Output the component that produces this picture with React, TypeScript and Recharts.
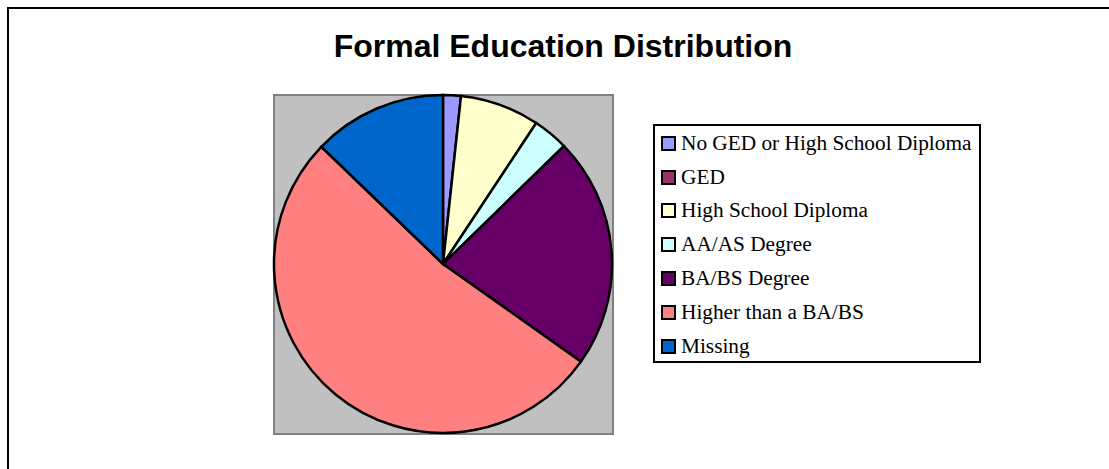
import React from 'react'
import { PieChart, Pie, Cell, Legend } from 'recharts'

// categories in clockwise order from 12 o'clock
const categories = [
  'No GED or High School Diploma',
  'GED',
  'High School Diploma',
  'AA/AS Degree',
  'BA/BS Degree',
  'Higher than a BA/BS',
  'Missing',
]
// share of respondents, %
const shares = [1.7, 0, 7.6, 3.4, 22.1, 52.4, 12.8]
const colors = ['#9999FF', '#993366', '#FFFFCC', '#CCFFFF', '#660066', '#FF8080', '#0066CC']

const title = 'Formal Education Distribution'

const data = categories.map((name, i) => ({ name, value: shares[i], color: colors[i] }))

function LegendBox() {
  return (
    <div
      style={{
        position: 'relative',
        boxSizing: 'border-box',
        width: 328,
        height: 239,
        border: '2px solid #000',
        background: '#fff',
        fontFamily: '"Liberation Serif", "Times New Roman", serif',
        fontSize: 21.3,
        color: '#000',
      }}
    >
      {data.map((d, i) => (
        <div
          key={d.name}
          style={{ position: 'absolute', left: 0, top: 4.8 + i * 33.8, height: 24, width: 320, lineHeight: '24px', whiteSpace: 'nowrap' }}
        >
          <div
            style={{
              position: 'absolute',
              left: 6,
              top: 5,
              width: 15,
              height: 15,
              boxSizing: 'border-box',
              border: '2px solid #000',
              background: d.color,
            }}
          />
          <span style={{ position: 'absolute', left: 26, top: 0 }}>{d.name}</span>
        </div>
      ))}
    </div>
  )
}

export default function App() {
  return (
    <div
      style={{
        position: 'absolute',
        left: 0,
        top: 0,
        width: 1109,
        height: 469,
        overflow: 'hidden',
        background: '#fff',
      }}
    >
      {/* chart frame, only left/top edges fall inside the picture */}
      <div
        style={{
          position: 'absolute',
          left: 7,
          top: 7,
          width: 1300,
          height: 800,
          borderLeft: '2px solid #000',
          borderTop: '2px solid #000',
        }}
      />
      <div
        style={{
          position: 'absolute',
          left: 263,
          top: 30,
          width: 600,
          textAlign: 'center',
          fontFamily: '"Liberation Sans", Arial, sans-serif',
          fontWeight: 'bold',
          fontSize: 32,
          lineHeight: '32px',
          color: '#000',
        }}
      >
        {title}
      </div>
      {/* plot area */}
      <div
        style={{
          position: 'absolute',
          left: 273,
          top: 94,
          width: 341,
          height: 341,
          boxSizing: 'border-box',
          border: '2px solid #808080',
          background: '#C0C0C0',
        }}
      />
      <div style={{ position: 'absolute', left: 0, top: 0 }}>
        <PieChart width={1109} height={469} margin={{ top: 0, right: 0, bottom: 0, left: 0 }}>
          <Pie
            data={data}
            dataKey="value"
            nameKey="name"
            cx={443}
            cy={264}
            outerRadius={169}
            startAngle={90}
            endAngle={-270}
            stroke="#000"
            strokeWidth={2.5}
            label={false}
            labelLine={false}
            isAnimationActive={false}
          >
            {data.map(d => (
              <Cell key={d.name} fill={d.color} />
            ))}
          </Pie>
          <Legend
            layout="vertical"
            align="right"
            verticalAlign="middle"
            content={() => <LegendBox />}
            wrapperStyle={{ left: 653, top: 124, width: 328, height: 239 }}
          />
        </PieChart>
      </div>
    </div>
  )
}
